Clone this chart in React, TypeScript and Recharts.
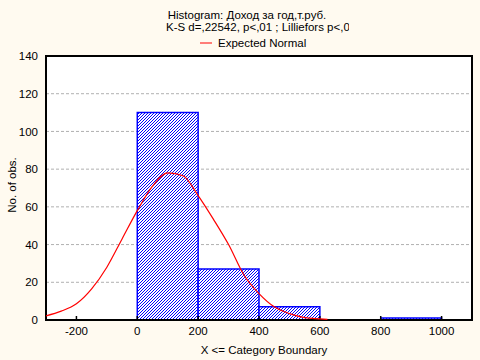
import React from 'react';
import {
    ComposedChart,
    LineChart,
    Line,
    XAxis,
    YAxis,
    CartesianGrid,
    ReferenceArea,
} from 'recharts';

// histogram bins (upper boundary inclusive)
const binStart = [0, 200, 400, 600, 800];
const binEnd = [200, 400, 600, 800, 1000];
const binCount = [110, 27, 7, 0, 1];

// expected normal curve
const curveX = [-300, -250, -200, -150, -100, -50, 0, 50, 100, 150, 200, 250, 300, 350, 400, 450, 500, 550, 600, 625];
const curveY = [2.2, 4.7, 8.6, 16.5, 28, 43, 58, 71, 78, 76.5, 66, 53.5, 40, 24, 14, 7, 3.4, 1.3, 0.6, 0.3];

const xTicks = [-200, 0, 200, 400, 600, 800, 1000];
const yTicks = [0, 20, 40, 60, 80, 100, 120, 140];

const FONT = '"Liberation Sans", Arial, sans-serif';
const BG = '#FFFAF0';
const X_DOMAIN: [number, number] = [-300, 1100];
const Y_DOMAIN: [number, number] = [0, 140];

const curveData = curveX.map((x, i) => ({ x, y: curveY[i] }));

const XTick = (props: any) => {
    const { x, y, payload } = props;
    return (
        <g>
            <line x1={x} y1={y} x2={x} y2={y - 4} stroke="#000" strokeWidth={1.5} />
            <text x={x} y={y + 15} textAnchor="middle" fontSize={11.5} fontFamily={FONT} fill="#000">
                {payload.value}
            </text>
        </g>
    );
};

export default function App() {
    return (
        <div style={{ position: 'absolute', left: 0, top: 0, width: 480, height: 360, background: BG }}>
            <svg width={0} height={0} style={{ position: 'absolute' }}>
                <defs>
                    <pattern id="hatch" width={3} height={3} patternUnits="userSpaceOnUse">
                        <rect width={3} height={3} fill="#fff" />
                        <rect x={2} y={0} width={1} height={1} fill="#0000ff" />
                        <rect x={1} y={1} width={1} height={1} fill="#0000ff" />
                        <rect x={0} y={2} width={1} height={1} fill="#0000ff" />
                    </pattern>
                </defs>
            </svg>
            {/* grid, axes and bars */}
            <ComposedChart
                width={480}
                height={360}
                data={curveData}
                margin={{ top: 56, right: 8, bottom: 20, left: 16 }}
            >
                <CartesianGrid
                    vertical={false}
                    stroke="#b0b0b0"
                    strokeDasharray="3 2"
                    fill="#fff"
                />
                <XAxis
                    dataKey="x"
                    type="number"
                    domain={X_DOMAIN}
                    ticks={xTicks}
                    tickSize={0}
                    tickMargin={0}
                    height={20}
                    tick={<XTick />}
                    axisLine={{ stroke: '#000', strokeWidth: 2 }}
                    allowDataOverflow
                />
                <YAxis
                    type="number"
                    domain={Y_DOMAIN}
                    ticks={yTicks}
                    width={30}
                    tickLine={false}
                    tickMargin={2}
                    tick={{ fontSize: 11.5, fontFamily: FONT, fill: '#000' }}
                    axisLine={{ stroke: '#000', strokeWidth: 2 }}
                    allowDataOverflow
                />
                {binCount.map((c, i) =>
                    c > 0 ? (
                        <ReferenceArea
                            key={i}
                            x1={binStart[i]}
                            x2={binEnd[i]}
                            y1={0}
                            y2={c}
                            fill="url(#hatch)"
                            fillOpacity={1}
                            stroke="#0000ff"
                            strokeWidth={1.5}
                        />
                    ) : null
                )}
                <ReferenceArea
                    x1={X_DOMAIN[0]}
                    x2={X_DOMAIN[1]}
                    y1={Y_DOMAIN[0]}
                    y2={Y_DOMAIN[1]}
                    fill="none"
                    stroke="#000"
                    strokeWidth={2}
                />
            </ComposedChart>
            {/* expected normal curve drawn on top of the bars */}
            <div style={{ position: 'absolute', left: 0, top: 0 }}>
                <LineChart
                    width={480}
                    height={360}
                    data={curveData}
                    margin={{ top: 56, right: 8, bottom: 40, left: 46 }}
                >
                    <XAxis dataKey="x" type="number" domain={X_DOMAIN} hide allowDataOverflow />
                    <YAxis type="number" domain={Y_DOMAIN} hide allowDataOverflow />
                    <Line
                        dataKey="y"
                        type="monotone"
                        stroke="#ff0000"
                        strokeWidth={1.2}
                        dot={false}
                        isAnimationActive={false}
                    />
                </LineChart>
            </div>
            <svg
                width={480}
                height={360}
                style={{ position: 'absolute', left: 0, top: 0, pointerEvents: 'none' }}
                fontFamily={FONT}
                fontSize={11.5}
                fill="#000"
            >
                <defs>
                    <clipPath id="titleClip">
                        <rect x={0} y={0} width={349} height={40} />
                    </clipPath>
                </defs>
                <text x={247} y={19} textAnchor="middle">Histogram: Доход за год,т.руб.</text>
                <g clipPath="url(#titleClip)">
                    <text x={166} y={31}>K-S d=,22542, p&lt;,01 ; Lilliefors p&lt;,01</text>
                </g>
                <line x1={200} y1={43} x2={212} y2={43} stroke="#ff0000" strokeWidth={1} />
                <text x={218} y={47}>Expected Normal</text>
                <text x={264} y={354} textAnchor="middle">X &lt;= Category Boundary</text>
                <text transform="translate(16,185) rotate(-90)" textAnchor="middle">No. of obs.</text>
            </svg>
        </div>
    );
}
